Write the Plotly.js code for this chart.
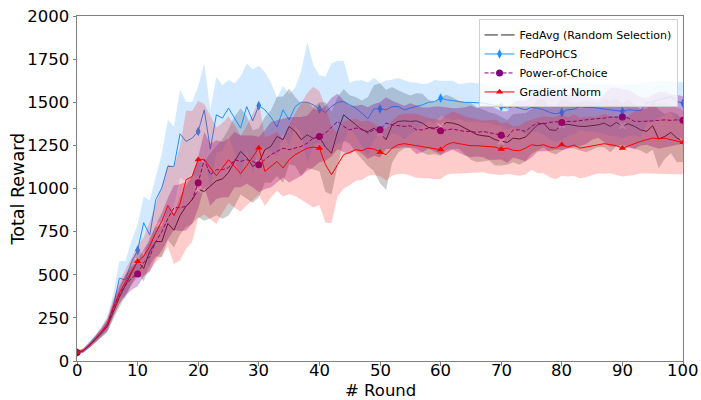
<!DOCTYPE html>
<html>
<head>
<meta charset="utf-8">
<script src="https://cdn.plot.ly/plotly-3.0.1.min.js"></script>
<style>html,body{margin:0;padding:0;background:#fff;}#chart{width:701px;height:400px;}</style>
</head>
<body>
<div id="chart"></div>
<script>
// ---- data ----
const rounds = Array.from({length: 101}, (_, i) => i);
const xTicks = [0, 10, 20, 30, 40, 50, 60, 70, 80, 90, 100];
const yTicks = [0, 250, 500, 750, 1000, 1250, 1500, 1750, 2000];

const fedAvgMean = [50,58,88,122,160,200,290,370,440,510,580,
  536,636,692,692,797,758,843,897,935,993,
  983,1016,1045,1055,1093,1157,1215,1180,1128,1148,
  1225,1244,1302,1283,1360,1331,1283,1311,1290,1300,
  1240,1205,1330,1427,1400,1370,1340,1330,1350,1320,
  1283,1369,1389,1392,1389,1392,1379,1354,1350,1360,
  1383,1379,1369,1350,1331,1312,1306,1302,1283,1273,
  1267,1292,1287,1298,1331,1369,1379,1340,1337,1369,
  1372,1364,1360,1360,1364,1369,1379,1360,1383,1364,
  1375,1360,1340,1331,1364,1287,1302,1325,1292,1273];
const fedAvgStd = [8,12,15,20,25,35,45,55,60,65,70,
  75,80,85,90,95,100,110,120,140,160,
  170,190,200,230,250,260,250,240,210,200,
  190,210,230,250,220,200,210,190,180,200,
  260,240,200,150,140,160,170,200,250,290,
  290,220,180,160,150,160,170,160,150,170,
  160,150,140,150,165,160,150,140,150,140,
  130,140,150,140,130,150,140,130,140,150,
  140,130,140,150,140,130,140,150,140,130,
  140,130,120,130,140,170,130,120,140,120];

const fedPohcsMean = [50,60,92,128,168,215,320,480,470,575,642,
  802,730,935,1005,1128,1128,1317,1273,1292,1331,
  1456,1230,1427,1408,1466,1408,1350,1475,1392,1481,
  1456,1414,1356,1456,1398,1475,1500,1500,1485,1462,
  1440,1475,1500,1504,1485,1466,1437,1404,1462,1462,
  1456,1475,1475,1456,1466,1475,1485,1499,1504,1524,
  1514,1510,1504,1499,1499,1499,1495,1489,1481,1475,
  1466,1475,1466,1456,1470,1466,1456,1441,1433,1441,
  1456,1460,1475,1470,1470,1466,1460,1456,1452,1447,
  1456,1456,1452,1495,1504,1514,1524,1533,1504,1495];
const fedPohcsStd = [8,12,18,22,30,45,70,100,110,120,150,
  150,200,130,200,270,230,255,230,210,260,
  270,226,220,190,165,200,300,250,300,230,
  220,200,170,140,150,110,180,350,230,195,
  210,250,240,236,127,160,190,210,180,150,
  170,155,165,170,150,140,120,110,125,100,
  110,115,100,110,115,110,115,110,110,115,
  125,120,130,145,140,140,145,155,165,160,
  150,145,135,140,140,140,145,150,150,155,
  150,150,155,120,115,110,100,90,115,120];

const pocMean = [50,60,90,125,165,210,305,385,440,480,505,
  570,607,692,750,826,889,889,897,935,1034,
  1167,1080,1109,1109,1120,1167,1157,1167,1157,1138,
  1167,1196,1215,1234,1225,1234,1244,1263,1292,1302,
  1321,1356,1389,1360,1340,1350,1345,1321,1340,1340,
  1379,1369,1364,1360,1364,1340,1340,1350,1345,1335,
  1340,1345,1337,1331,1331,1325,1331,1325,1317,1308,
  1298,1340,1340,1331,1360,1379,1375,1383,1387,1383,
  1389,1389,1395,1398,1402,1404,1408,1414,1414,1414,
  1408,1389,1389,1389,1392,1395,1398,1395,1398,1395];
const pocStd = [6,10,14,18,24,32,42,52,60,68,72,
  80,90,100,110,120,130,135,140,140,150,
  160,180,170,160,170,160,150,140,150,160,
  170,190,180,170,190,180,170,160,170,150,
  160,170,160,150,140,130,140,150,150,160,
  150,140,130,120,130,140,130,120,130,140,
  130,120,130,140,150,140,150,160,150,140,
  150,160,170,175,180,165,160,165,160,160,
  155,150,150,140,120,110,140,170,170,160,
  165,160,140,135,150,165,160,150,145,140];

const gnMean = [50,60,92,126,166,212,310,395,460,520,578,
  607,665,744,810,902,843,912,1051,1070,1167,
  1170,1120,1074,1120,1167,1128,1086,1132,1186,1235,
  1099,1128,1157,1119,1167,1196,1215,1234,1240,1234,
  1138,1080,1138,1196,1209,1225,1219,1234,1228,1211,
  1196,1234,1254,1260,1254,1248,1240,1234,1228,1225,
  1254,1267,1260,1254,1248,1248,1244,1240,1240,1228,
  1234,1221,1219,1234,1254,1248,1254,1240,1234,1254,
  1240,1252,1234,1240,1248,1252,1260,1254,1248,1234,
  1248,1263,1273,1283,1292,1289,1292,1283,1277,1267];
const gnStd = [8,12,16,20,26,36,50,62,72,80,90,
  110,140,170,200,240,280,330,400,380,340,
  320,300,280,260,250,240,220,230,250,270,
  200,180,170,165,200,240,280,320,350,330,
  336,280,183,196,190,180,170,160,150,140,
  150,160,170,175,180,185,180,175,175,170,
  175,180,175,165,160,155,150,155,160,150,
  150,140,145,155,145,160,165,175,180,180,
  170,180,175,175,170,165,175,165,170,165,
  175,185,185,195,205,205,210,200,195,185];

const seriesNames = ["FedAvg (Random Selection)", "FedPOHCS", "Power-of-Choice", "Gradient Norm"];
const xTitle = "# Round";
const yTitle = "Total Reward";

// ---- styling ----
const styles = [
  {mean: fedAvgMean, std: fedAvgStd, line: '#262626', dash: 'solid', band: 'rgba(0,0,0,0.2)',
   symbol: 'x-thin', mcolor: '#ffffff', msize: 6, thin: true},
  {mean: fedPohcsMean, std: fedPohcsStd, line: '#1e90ff', dash: 'solid', band: 'rgba(30,144,255,0.2)',
   symbol: 'diamond-tall', mcolor: '#1e90ff', msize: 7, thin: false},
  {mean: pocMean, std: pocStd, line: '#800080', dash: '4px,2px', band: 'rgba(128,0,128,0.3)',
   symbol: 'circle', mcolor: '#800080', msize: 7, thin: false},
  {mean: gnMean, std: gnStd, line: '#ff0000', dash: 'solid', band: 'rgba(255,0,0,0.2)',
   symbol: 'triangle-up', mcolor: '#ff0000', msize: 6.5, thin: false}
];

const traces = [];
styles.forEach((s, k) => {
  const upper = s.mean.map((m, i) => m + s.std[i]);
  const lower = s.mean.map((m, i) => m - s.std[i]);
  traces.push({
    x: rounds.concat(rounds.slice().reverse()),
    y: upper.concat(lower.slice().reverse()),
    type: 'scatter', mode: 'lines', fill: 'toself', fillcolor: s.band,
    line: {width: 0, color: 'rgba(0,0,0,0)'}, hoverinfo: 'skip', showlegend: false
  });
  const clear = 'rgba(0,0,0,0)';
  const mcol = rounds.map(r => (r % 10 === 0 ? s.mcolor : clear));
  const marker = {symbol: s.symbol, size: s.msize};
  if (s.thin) {
    marker.color = clear;
    marker.line = {color: mcol, width: 1.5};
  } else {
    marker.color = mcol;
    marker.line = {width: 0};
  }
  traces.push({
    x: rounds, y: s.mean, type: 'scatter', mode: 'lines+markers', name: seriesNames[k],
    line: {color: s.line, width: 1, dash: s.dash}, marker: marker
  });
});

const axisCommon = {
  showgrid: false, zeroline: false, showline: true, mirror: true,
  linecolor: '#808080', linewidth: 1, ticks: 'outside', ticklen: 3.5, tickwidth: 1,
  tickcolor: '#808080', tickfont: {family: 'DejaVu Sans', size: 16.5, color: '#000'}
};

const tickFont = {family: 'DejaVu Sans', size: 16.5, color: '#000'};
const annotations = xTicks.map(v => ({
  text: String(v), xref: 'x', yref: 'paper', x: v, y: -0.0275,
  xanchor: 'center', yanchor: 'middle', showarrow: false, font: tickFont, borderpad: 0
}));
annotations.push(
  {text: xTitle, xref: 'paper', yref: 'paper', x: 0.5, y: -0.0845, xanchor: 'center', yanchor: 'middle',
   showarrow: false, font: {family: 'DejaVu Sans', size: 16.5, color: '#000'}, borderpad: 0},
  {text: yTitle, xref: 'paper', yref: 'paper', x: -0.0974, y: 0.5, xanchor: 'center', yanchor: 'middle',
   textangle: -90, showarrow: false, font: {family: 'DejaVu Sans', size: 17.5, color: '#000'}}
);

const layout = {
  width: 701, height: 400,
  margin: {l: 77, r: 18, t: 16, b: 39, pad: 0},
  paper_bgcolor: '#fff', plot_bgcolor: '#fff',
  font: {family: 'DejaVu Sans', color: '#000'},
  xaxis: Object.assign({}, axisCommon, {
    range: [0, 100], tickvals: xTicks, showticklabels: false
  }),
  yaxis: Object.assign({}, axisCommon, {
    range: [0, 2000], tickvals: yTicks, ticktext: yTicks.map(String)
  }),
  annotations: annotations,
  legend: {
    x: 0.991, y: 0.99, xanchor: 'right', yanchor: 'top',
    bgcolor: 'rgba(255,255,255,0.8)', bordercolor: '#d0d0d0', borderwidth: 1,
    font: {family: 'DejaVu Sans', size: 11, color: '#000'}, tracegroupgap: 0
  },
  showlegend: true
};

Plotly.newPlot('chart', traces, layout, {staticPlot: true, displayModeBar: false});
</script>
</body>
</html>
